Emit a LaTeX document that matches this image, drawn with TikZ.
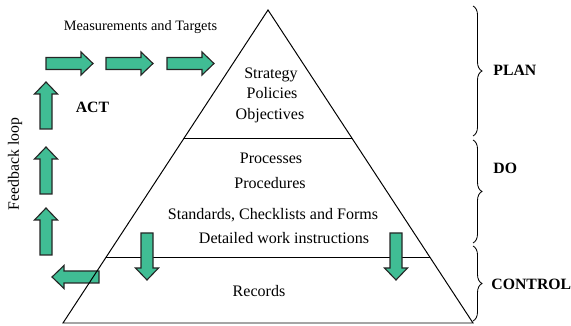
\documentclass[tikz,border=0pt]{standalone}
\usepackage{fontspec}
\setmainfont{Liberation Serif}
\usetikzlibrary{calc,decorations.pathreplacing}
\definecolor{arrowgreen}{RGB}{64,189,148}
\def\bodyhw{6}
\def\headhw{11.5}
\def\headlen{12}
\def\arrowlen{47}

\begin{document}
\begin{tikzpicture}[x=0.025cm,y=0.025cm,line width=0.7pt]
            \tikzstyle{blockarrow}=[draw=black!85,fill=arrowgreen,line width=0.8pt,line join=miter]
            \tikzstyle{level text}=[anchor=base,inner sep=0pt,font=\fontsize{11.4}{13}\selectfont]
            \tikzstyle{phase}=[anchor=base west,inner sep=0pt,font=\fontsize{11.2}{13}\selectfont\bfseries]
            \tikzstyle{phase brace}=[decorate,decoration={brace,amplitude=6.4pt},line width=0.6pt]

            \useasboundingbox (0,0) rectangle (571,326);

            % Draw the feedback loop arrows (tail x / tail y / direction)
            \foreach \x/\y/\a in {46/197/90, 46/132/90, 46/71/90, 99/49/180,
                                  46/262.5/0, 106/262.5/0, 167/262.5/0}
                \draw[blockarrow, shift={(\x,\y)}, rotate=\a]
                    (0,-\bodyhw) -- (\arrowlen-\headlen,-\bodyhw) -- (\arrowlen-\headlen,-\headhw)
                    -- (\arrowlen,0) -- (\arrowlen-\headlen,\headhw) -- (\arrowlen-\headlen,\bodyhw)
                    -- (0,\bodyhw) -- cycle;

            % Draw the pyramid
            \coordinate (apex) at (268,316);
            \coordinate (base left) at (63,3);
            \coordinate (base right) at (473,3);
            \draw (base left) -- (apex) -- (base right) -- cycle;
            \foreach \f in {0.412,0.792}
                \draw ($(apex)!\f!(base left)$) -- ($(apex)!\f!(base right)$);

            % Records arrows
            \foreach \x in {147,396}
                \draw[blockarrow, shift={(\x,93)}, rotate=-90]
                    (0,-\bodyhw) -- (\arrowlen-\headlen,-\bodyhw) -- (\arrowlen-\headlen,-\headhw)
                    -- (\arrowlen,0) -- (\arrowlen-\headlen,\headhw) -- (\arrowlen-\headlen,\bodyhw)
                    -- (0,\bodyhw) -- cycle;

            % Text in the levels
            \node[level text] (strategy) at (271,247) {Strategy};
            \node[level text] (policies) at (272,227) {Policies};
            \node[level text] (objectives) at (270,206) {Objectives};
            \node[level text] (processes) at (271,162) {Processes};
            \node[level text] (procedures) at (270,137) {Procedures};
            \node[level text] (standards) at (273,106) {Standards, Checklists and Forms};
            \node[level text] (instructions) at (284,82) {Detailed work instructions};
            \node[level text] (records) at (259,29) {Records};

            \node[anchor=base,inner sep=0pt,font=\fontsize{10.2}{12}\selectfont] (targets) at (140.5,295) {Measurements and Targets};
            \node[anchor=base,inner sep=0pt,font=\fontsize{11.2}{13}\selectfont\bfseries] (act) at (92.5,213) {ACT};
            \node[rotate=90,inner sep=0pt,font=\fontsize{11.2}{13}\selectfont] (feedback) at (15,162) {Feedback loop};

            % Annotate the phases
            \draw[phase brace] (473,320) -- (473,190);
            \draw[phase brace] (473,186) -- (473,83);
            \draw[phase brace] (473,80) -- (473,5);
            \node[phase] (plan) at (493,250) {PLAN};
            \node[phase] (do) at (493,152) {DO};
            \node[phase] (control) at (491,36) {CONTROL};
\end{tikzpicture}
\end{document}
